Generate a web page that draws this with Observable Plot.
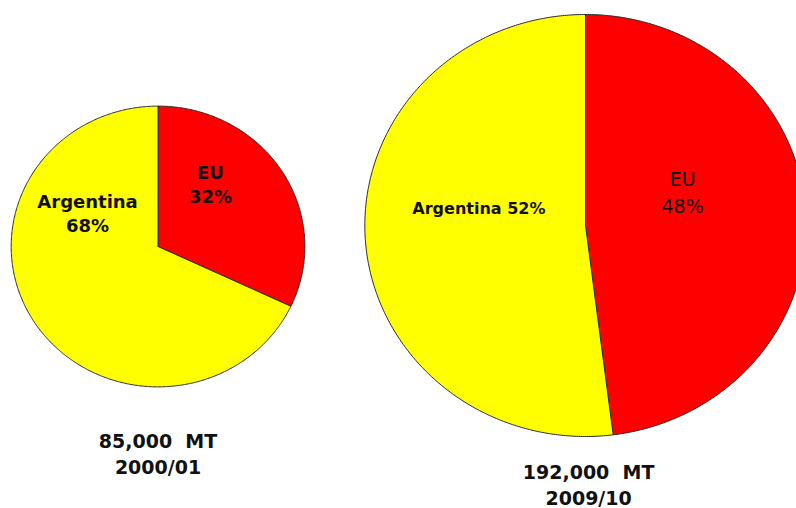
<!DOCTYPE html>
<html><head><meta charset="utf-8">
<script src="https://cdn.jsdelivr.net/npm/d3@7"></script>
<script src="https://cdn.jsdelivr.net/npm/@observablehq/plot@0.6"></script>
<style>html,body{margin:0;padding:0;background:#fff;overflow:hidden}</style>
</head><body><div id="chart"></div>
<script>
// ---- data ----
const seasons = ["2000/01", "2009/10"];
const totalsMT = [85000, 192000];
const totalLabels = ["85,000  MT", "192,000  MT"];
const regions = ["EU", "Argentina"];
const shares2000 = [32, 68];
const shares2009 = [48, 52];
const sliceLabels2000 = ["EU\n32%", "Argentina\n68%"];
const sliceLabels2009 = ["EU\n48%", "Argentina 52%"];

// ---- layout (not data) ----
const W = 796, H = 508, XSTRETCH = 1.046;
const centerX = [150.6, 559.3];
const centerY = [246, 225];
const rScale = d3.scaleSqrt().domain([0, 192000]).range([0, 211]);
const labelOffsets = [[[0.357, -0.449], [-0.48, -0.246]], [[0.44, -0.163], [-0.483, -0.085]]];
const labelSizes = [[18, 18], [19, 16]];
const labelBold = [[true, true], [false, true]];
const totalOffsets = [[0, 1.471], [0.014, 1.223]];

const shares = [shares2000, shares2009];
const sliceLabels = [sliceLabels2000, sliceLabels2009];
const points = [], labels = [], totals = [];
seasons.forEach((s, i) => {
  const r = rScale(totalsMT[i]);
  const arcs = d3.pie().sort(null).value(d => d)(shares[i]);
  arcs.forEach((a, j) => {
    const key = s + "-" + regions[j];
    const center = {key, region: regions[j], x: centerX[i], y: centerY[i]};
    points.push(center);
    const n = Math.max(2, Math.ceil((a.endAngle - a.startAngle) / (Math.PI / 360)));
    for (let k = 0; k <= n; k++) {
      const ang = a.startAngle + (a.endAngle - a.startAngle) * k / n;
      points.push({key, region: regions[j], x: centerX[i] + r * Math.sin(ang), y: centerY[i] - r * Math.cos(ang)});
    }
    points.push({...center});
    labels.push({
      text: sliceLabels[i][j],
      x: centerX[i] + labelOffsets[i][j][0] * r,
      y: centerY[i] + labelOffsets[i][j][1] * r,
      size: labelSizes[i][j], bold: labelBold[i][j]
    });
  });
  totals.push({
    text: totalLabels[i] + "\n" + s,
    x: centerX[i] + totalOffsets[i][0] * r,
    y: centerY[i] + totalOffsets[i][1] * r
  });
});

const font = "DejaVu Sans";
const chart = Plot.plot({
  width: W, height: H, margin: 0,
  style: {background: "#fff", overflow: "hidden"},
  x: {domain: [0, W / XSTRETCH], range: [0, W], axis: null},
  y: {domain: [0, H], range: [0, H], axis: null},
  color: {domain: ["Argentina", "EU"], range: ["#ffff00", "#ff0000"]},
  marks: [
    Plot.line(points, {x: "x", y: "y", z: "key", fill: "region", stroke: "#2a2a2a", strokeWidth: 1, strokeLinejoin: "round"}),
    Plot.text(labels.filter(d => d.bold), {x: "x", y: "y", text: "text", fontSize: "size", fontWeight: "bold", fontFamily: font, lineAnchor: "middle", lineHeight: 1.35, fill: "#111"}),
    Plot.text(labels.filter(d => !d.bold), {x: "x", y: "y", text: "text", fontSize: "size", fontWeight: "normal", fontFamily: font, lineAnchor: "middle", lineHeight: 1.4, fill: "#111"}),
    Plot.text(totals, {x: "x", y: "y", text: "text", fontSize: 19, fontWeight: "bold", fontFamily: font, lineAnchor: "middle", lineHeight: 1.35, fill: "#111"})
  ]
});
document.getElementById("chart").appendChild(chart);
</script>
</body></html>
